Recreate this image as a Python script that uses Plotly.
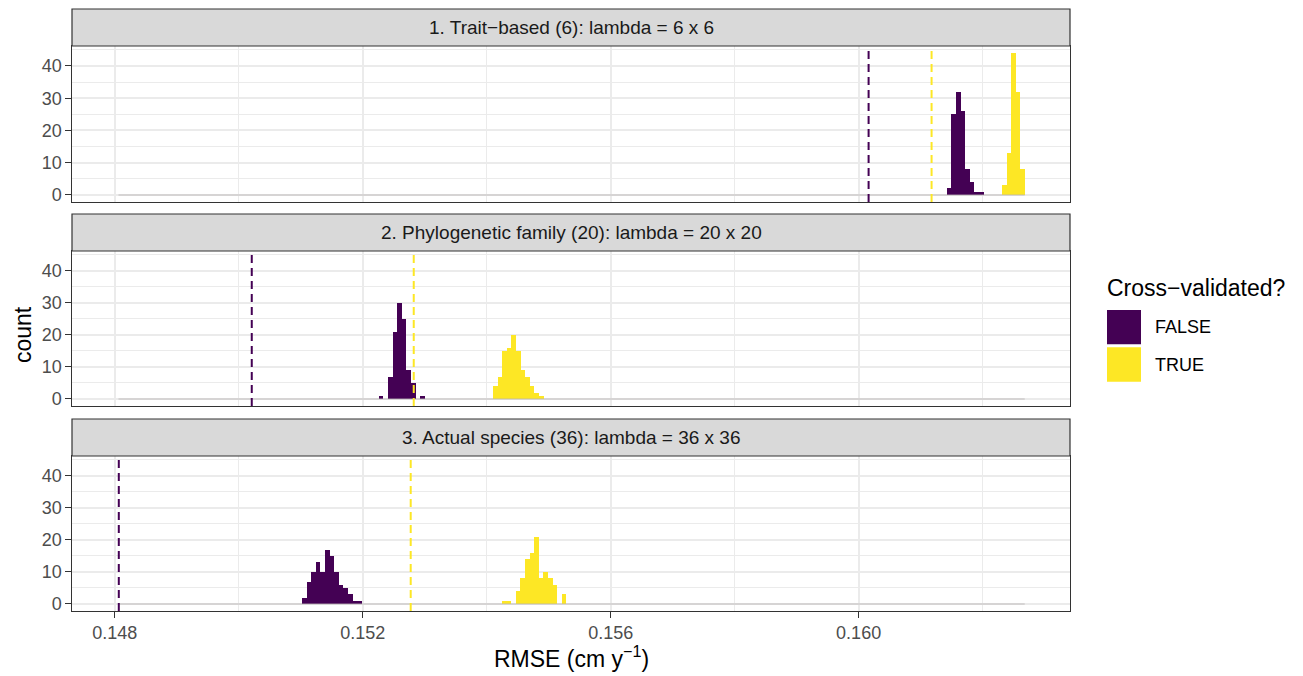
import plotly.graph_objects as go

# ---------------- data ----------------
panels = [
    "1. Trait\u2212based (6): lambda = 6 x 6",
    "2. Phylogenetic family (20): lambda = 20 x 20",
    "3. Actual species (36): lambda = 36 x 36",
]
groups = ["FALSE", "TRUE"]
bin_width = 0.0000742

# left edge of first bin and counts per bin, for each panel
false_starts = [0.161424, 0.152258, 0.151021]
false_counts = [
    [2, 25, 32, 26, 8, 4, 1, 1],
    [1, 0, 7, 21, 30, 25, 9, 5, 0, 1],
    [2, 7, 10, 13, 10, 17, 15, 10, 6, 5, 3, 1, 1],
]
true_starts = [0.162312, 0.154102, 0.154247]
true_counts = [
    [3, 13, 44, 32, 8],
    [4, 7, 15, 16, 20, 15, 9, 7, 4, 2, 1],
    [1, 1, 0, 4, 8, 14, 16, 21, 8, 10, 8, 6, 0, 3],
]
# dashed reference lines
false_vline = [0.160161, 0.150210, 0.148065]
true_vline = [0.161177, 0.152823, 0.152774]
# range of histogram bins (empty bins draw a flat line at 0)
hist_range = [0.14806, 0.16268]

x_ticks = [0.148, 0.152, 0.156, 0.160]
x_ticklabels = ["0.148", "0.152", "0.156", "0.160"]
x_minor = [0.150, 0.154, 0.158, 0.162]
y_ticks = [0, 10, 20, 30, 40]
y_minor = [5, 15, 25, 35, 45]
x_range = [0.14731, 0.16341]
y_range = [-2.2, 46.2]

colors = {"FALSE": "#440154", "TRUE": "#FDE725"}

# ---------------- layout geometry (page pixel coordinates) ----------------
OFF = 8                      # default body margin of the html page
PAGE_W, PAGE_H = 1303, 676
W, H = PAGE_W - 2 * OFF, PAGE_H - OFF
area_l, area_r, area_t, area_b = 72, 1070, 9, 611   # plotting area on page
ml, mt = area_l - OFF, area_t - OFF
mr, mb = (OFF + W) - area_r, (OFF + H) - area_b
plot_h = area_b - area_t
plot_w = area_r - area_l


def py(p):  # page pixel y -> paper
    return (area_b - p) / plot_h


def px(p):  # page pixel x -> paper
    return (p - area_l) / plot_w


panel_px = [(46, 202), (251, 406), (456, 611)]
strip_px = [(9, 46), (214, 251), (419, 456)]

FONT = "Liberation Sans, Arial, Helvetica, sans-serif"
GRID = "#EBEBEB"
DARK = "#333333"

fig = go.Figure()
layout = dict(
    width=W, height=H,
    margin=dict(l=ml, r=mr, t=mt, b=mb, pad=0),
    paper_bgcolor="white", plot_bgcolor="white",
    barmode="overlay", bargap=0, showlegend=False,
    font=dict(family=FONT, color="#4D4D4D", size=18),
)
shapes = []
annotations = []

for i in range(3):
    k = "" if i == 0 else str(i + 1)
    xa, ya = "x" + k, "y" + k
    fig.add_trace(go.Scatter(
        x=hist_range, y=[0, 0], mode="lines",
        line=dict(color="rgba(185,180,180,0.55)", width=1.5),
        xaxis=xa, yaxis=ya, hoverinfo="skip"))
    for g, starts, counts in (("FALSE", false_starts, false_counts),
                              ("TRUE", true_starts, true_counts)):
        c = counts[i]
        centers = [starts[i] + (j + 0.5) * bin_width for j in range(len(c))]
        fig.add_trace(go.Bar(
            x=centers, y=c, width=[bin_width] * len(c),
            marker=dict(color=colors[g], line=dict(width=0)),
            xaxis=xa, yaxis=ya, name=g))
    for g, v in (("FALSE", false_vline[i]), ("TRUE", true_vline[i])):
        shapes.append(dict(type="line", xref=xa, yref=ya + " domain",
                           x0=v, x1=v, y0=0, y1=1,
                           line=dict(color=colors[g], width=2, dash="8px,5px")))
    top, bot = panel_px[i]
    bottom = (i == 2)
    layout["xaxis" + k] = dict(
        domain=[0, 1], anchor=ya, range=x_range,
        tickmode="array", tickvals=x_ticks, ticktext=x_ticklabels,
        showticklabels=bottom, ticks="outside" if bottom else "",
        ticklen=5.5, tickwidth=1.2, tickcolor=DARK,
        tickfont=dict(size=18, color="#4D4D4D", family=FONT),
        showgrid=True, gridcolor=GRID, gridwidth=1.6,
        minor=dict(tickvals=x_minor, showgrid=True, gridcolor=GRID, gridwidth=0.9, ticks=""),
        showline=True, mirror=True, linecolor=DARK, linewidth=1.2,
        zeroline=False,
    )
    layout["yaxis" + k] = dict(
        domain=[py(bot), py(top)], anchor=xa, range=y_range,
        tickmode="array", tickvals=y_ticks, ticktext=[str(t) for t in y_ticks],
        ticks="outside", ticklen=5.5, tickwidth=1.2, tickcolor=DARK,
        tickfont=dict(size=18, color="#4D4D4D", family=FONT),
        showgrid=True, gridcolor=GRID, gridwidth=1.6,
        minor=dict(tickvals=y_minor, showgrid=True, gridcolor=GRID, gridwidth=0.9, ticks=""),
        showline=True, mirror=True, linecolor=DARK, linewidth=1.2,
        zeroline=False,
    )
    s0, s1 = strip_px[i]
    shapes.append(dict(type="rect", xref="paper", yref="paper",
                       x0=0, x1=1, y0=py(s1), y1=py(s0),
                       fillcolor="#D9D9D9", line=dict(color=DARK, width=1.2),
                       layer="above"))
    annotations.append(dict(text=panels[i], xref="paper", yref="paper",
                            x=0.5, y=py((s0 + s1) / 2), showarrow=False,
                            xanchor="center", yanchor="middle",
                            font=dict(size=19, color="#1A1A1A", family=FONT)))

# axis titles
annotations.append(dict(text="RMSE (cm y<sup>\u22121</sup>)", xref="paper", yref="paper",
                        x=0.5, y=py(657), showarrow=False, xanchor="center", yanchor="middle",
                        font=dict(size=23, color="black", family=FONT)))
annotations.append(dict(text="count", xref="paper", yref="paper", textangle=-90,
                        x=px(23), y=py(335), showarrow=False, xanchor="center", yanchor="middle",
                        font=dict(size=23, color="black", family=FONT)))

# legend (drawn manually to match ggplot key size)
annotations.append(dict(text="Cross\u2212validated?", xref="paper", yref="paper",
                        x=px(1105), y=py(288), showarrow=False, xanchor="left", yanchor="middle",
                        font=dict(size=23, color="black", family=FONT)))
key_px = [(310, 344.3), (347.3, 381.7)]
for g, (k0, k1) in zip(groups, key_px):
    shapes.append(dict(type="rect", xref="paper", yref="paper",
                       x0=px(1107), x1=px(1141), y0=py(k1), y1=py(k0),
                       fillcolor=colors[g], line=dict(width=0)))
    annotations.append(dict(text=g, xref="paper", yref="paper",
                            x=px(1153), y=py((k0 + k1) / 2), showarrow=False,
                            xanchor="left", yanchor="middle",
                            font=dict(size=18, color="black", family=FONT)))

layout["shapes"] = shapes
layout["annotations"] = annotations
fig.update_layout(**layout)
fig.write_html("out.html")
